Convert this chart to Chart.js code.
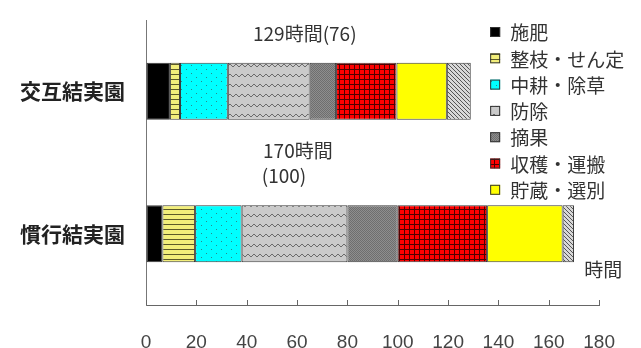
<!DOCTYPE html>
<html lang="ja">
<head>
<meta charset="utf-8">
<script src="https://cdn.jsdelivr.net/npm/chart.js@4/dist/chart.umd.min.js"></script>
<style>
  html, body { margin: 0; padding: 0; background: #fff; }
  #wrap { width: 641px; height: 348px; }
</style>
</head>
<body>
<div id="wrap"><canvas id="c" width="641" height="348"></canvas></div>
<script>
// 園地ごとの作業別労働時間（時間）
const categories = ['交互結実園', '慣行結実園'];
const seriesNames = ['施肥', '整枝・せん定', '中耕・除草', '防除', '摘果', '収穫・運搬', '貯蔵・選別', 'その他'];
const fertilizing = [9.5, 6.5];
const pruning = [4, 13];
const weeding = [19, 18.5];
const spraying = [32.5, 42];
const thinning = [10.5, 20];
const harvesting = [24, 35.5];
const storage = [20, 30];
const other = [9.5, 4.5];
const totalHours = [129, 170];
const indexValues = [76, 100];
const xTicks = [0, 20, 40, 60, 80, 100, 120, 140, 160, 180];

const seriesValues = [fertilizing, pruning, weeding, spraying, thinning, harvesting, storage, other];

// 塗りつぶし模様
const ctx = document.getElementById('c').getContext('2d');
function tile(w, h, bg, draw) {
  const c = document.createElement('canvas');
  c.width = w; c.height = h;
  const g = c.getContext('2d');
  g.fillStyle = bg; g.fillRect(0, 0, w, h);
  if (draw) draw(g);
  return ctx.createPattern(c, 'repeat');
}
const fills = [
  '#000000',
  tile(4, 5, '#f2ee7a', g => { g.fillStyle = '#5c5a28'; g.fillRect(0, 4, 4, 1); }),
  tile(10, 8, '#00ffff', g => { g.fillStyle = '#2a8a8a'; g.fillRect(1, 1, 1, 1); g.fillRect(6, 5, 1, 1); }),
  tile(6, 10, '#cacaca', g => {
    g.fillStyle = '#6a6a6a';
    [[0,5],[1,4],[2,4],[3,5],[4,6],[5,6]].forEach(p => g.fillRect(p[0], p[1], 1, 1));
  }),
  tile(2, 2, '#8e8e8e', g => { g.fillStyle = '#6e6e6e'; g.fillRect(0, 0, 1, 1); g.fillRect(1, 1, 1, 1); }),
  tile(5, 5, '#ff0000', g => { g.fillStyle = '#500000'; g.fillRect(4, 0, 1, 5); g.fillRect(0, 4, 5, 1); }),
  '#ffff00',
  tile(4, 4, '#d8d8d8', g => {
    g.fillStyle = '#555555';
    for (let i = 0; i < 4; i++) g.fillRect(i, i, 1, 1);
  })
];

const datasets = seriesNames.map((name, i) => ({
  label: name,
  data: seriesValues[i],
  backgroundColor: fills[i],
  borderColor: '#3a3a3a',
  borderWidth: 1,
  borderSkipped: false,
  barPercentage: 0.8,
  categoryPercentage: 0.5
}));

const JP = '"Noto Sans CJK JP", "Noto Sans", sans-serif';

// 注記・凡例・内向き目盛り
const decorations = {
  id: 'decorations',
  afterDraw(chart) {
    const g = chart.ctx;
    const xs = chart.scales.x, ys = chart.scales.y;
    const area = chart.chartArea;

    // 内向きの目盛り線
    g.save();
    g.strokeStyle = '#666';
    g.lineWidth = 1;
    xTicks.forEach(v => {
      const px = Math.round(xs.getPixelForValue(v)) + 0.5;
      g.beginPath();
      g.moveTo(px, area.bottom);
      g.lineTo(px, area.bottom - 5);
      g.stroke();
    });
    g.restore();

    // 合計時間の注記
    g.save();
    g.fillStyle = '#333';
    g.font = '19px ' + JP;
    g.textBaseline = 'middle';
    g.textAlign = 'left';
    const y0 = ys.getPixelForValue(0);
    const y1 = ys.getPixelForValue(1);
    g.fillText(totalHours[0] + '時間(' + indexValues[0] + ')', xs.getPixelForValue(42.5), y0 - 57);
    g.fillText(totalHours[1] + '時間', xs.getPixelForValue(46.5), y1 - 83);
    g.fillText('(' + indexValues[1] + ')', xs.getPixelForValue(46), y1 - 58);
    // 単位
    g.textAlign = 'center';
    g.fillText('時間', area.right + 4, area.bottom - 35);
    g.restore();

    // 凡例
    g.save();
    const lx = area.right - 109, ly = 32, step = 26.3;
    g.font = '19px ' + JP;
    g.textBaseline = 'middle';
    g.textAlign = 'left';
    for (let i = 0; i < 7; i++) {
      const cy = ly + i * step;
      g.fillStyle = fills[i];
      g.fillRect(lx, cy - 5, 10, 10);
      g.strokeStyle = '#333';
      g.lineWidth = 1;
      g.strokeRect(lx + 0.5, cy - 4.5, 9, 9);
      g.fillStyle = '#333';
      g.fillText(seriesNames[i], lx + 20, cy + 1);
    }
    g.restore();
  }
};

new Chart(ctx, {
  type: 'bar',
  data: { labels: categories, datasets },
  options: {
    indexAxis: 'y',
    responsive: false,
    animation: false,
    layout: { padding: { top: 20, right: 40, left: 0, bottom: 0 } },
    plugins: { legend: { display: false }, tooltip: { enabled: false } },
    scales: {
      x: {
        stacked: true,
        min: 0,
        max: 180,
        afterBuildTicks(scale) { scale.ticks = xTicks.map(v => ({ value: v })); },
        afterFit(scale) { scale.height = 43; },
        grid: { display: true, drawOnChartArea: false, drawTicks: false },
        border: { display: true, color: '#666', width: 1 },
        ticks: { color: '#444', padding: 26, font: { size: 19, family: '"Liberation Sans", Arial, sans-serif' } }
      },
      y: {
        stacked: true,
        afterFit(scale) {
          scale.width = 146;
          scale.paddingTop = 0;
          scale.paddingBottom = 0;
        },
        grid: { display: true, drawOnChartArea: false, drawTicks: false },
        border: { display: true, color: '#777', width: 1 },
        ticks: { color: '#222', padding: 21, font: { size: 21, weight: 'bold', family: JP } }
      }
    }
  },
  plugins: [decorations]
});
</script>
</body>
</html>
